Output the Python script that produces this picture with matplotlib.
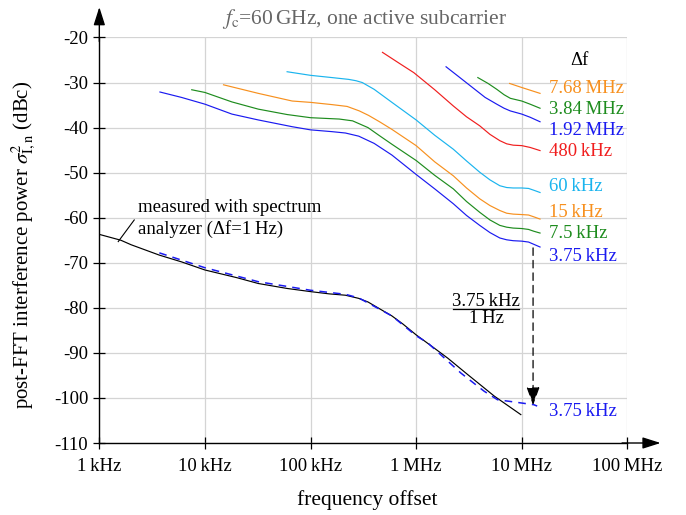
"""
Post-FFT interference power vs. frequency offset for several subcarrier
spacings, compared with the spectrum analyzer measurement.
"""

import matplotlib
matplotlib.use("Agg")
import matplotlib.pyplot as plt
from matplotlib.ticker import FixedLocator, NullLocator

plt.rcParams["font.family"] = ["Liberation Serif", "DejaVu Serif"]
plt.rcParams["mathtext.fontset"] = "stix"

# ---- data (frequency offset in Hz, power in dBc) ----
f_375k = [3.75e3, 6e3, 1e4, 1.8e4, 3.2e4, 6.7e4, 1e5, 1.6e5, 2.14e5, 2.86e5,
          4e5, 5.9e5, 1e6, 1.5e6, 2.25e6, 3e6, 4e6, 5e6, 6.2e6, 7.2e6, 8.3e6,
          1e7, 11.6e6, 13e6, 14.9e6]
p_375k = [-32.1, -33.3, -34.8, -37.0, -38.3, -39.8, -40.5, -40.9, -41.2, -41.9,
          -43.5, -46.1, -50.4, -53.6, -56.9, -59.5, -61.7, -63.3, -64.5, -64.9,
          -65.1, -65.2, -65.4, -65.9, -66.5]

f_75k = [7.5e3, 1e4, 1.8e4, 3.2e4, 6e4, 1e5, 1.87e5, 2.5e5, 3.5e5, 4.5e5,
         5.9e5, 1e6, 1.5e6, 2.25e6, 3e6, 4e6, 5e6, 6.2e6, 7.2e6, 8.3e6, 1e7,
         11.6e6, 13e6, 14.9e6]
p_75k = [-31.6, -32.2, -34.3, -35.9, -37.1, -37.8, -38.1, -38.5, -40.0, -41.8,
         -43.7, -47.3, -50.6, -53.6, -56.4, -58.8, -60.5, -61.7, -62.1, -62.3,
         -62.4, -62.6, -63.0, -63.4]

f_15k = [1.5e4, 3.2e4, 6.7e4, 1e5, 1.6e5, 2.22e5, 2.9e5, 3.55e5, 4.5e5, 5.9e5,
         1e6, 1.5e6, 2.25e6, 3e6, 4e6, 5e6, 6.2e6, 7.2e6, 8.3e6, 1e7, 11.6e6,
         13e6, 14.9e6]
p_15k = [-30.5, -32.4, -34.1, -34.4, -34.9, -35.3, -36.3, -37.3, -38.7, -40.4,
         -44.0, -47.6, -50.7, -53.4, -55.8, -57.3, -58.4, -59.0, -59.2, -59.3,
         -59.4, -59.8, -60.3]

f_60k = [6e4, 1e5, 1.6e5, 2.3e5, 2.7e5, 3.09e5, 4e5, 5.9e5, 1e6, 1.5e6, 2.25e6,
         3e6, 4e6, 5e6, 6.2e6, 7.2e6, 8.3e6, 1e7, 11.6e6, 13e6, 14.9e6]
p_60k = [-27.6, -28.4, -28.9, -29.3, -29.6, -30.0, -31.5, -34.4, -38.3, -41.7,
         -44.8, -47.4, -49.9, -51.6, -52.9, -53.3, -53.4, -53.4, -53.5, -53.9,
         -54.4]

f_480k = [4.8e5, 7e5, 9.5e5, 1.5e6, 2.25e6, 3e6, 4e6, 5e6, 6.2e6, 7.2e6, 8.3e6,
          1e7, 12e6, 14.9e6]
p_480k = [-23.3, -25.8, -27.8, -31.6, -35.2, -37.6, -39.6, -41.5, -42.9, -43.6,
          -43.9, -44.0, -44.4, -45.1]

f_192m = [1.92e6, 2.5e6, 3.25e6, 4.5e6, 5.8e6, 6.8e6, 7.8e6, 1e7, 12e6, 14.9e6]
p_192m = [-26.5, -28.6, -30.7, -33.3, -34.8, -35.7, -36.3, -37.0, -37.7, -38.7]

f_384m = [3.84e6, 4.8e6, 5.8e6, 6.8e6, 7.8e6, 1e7, 12e6, 14.9e6]
p_384m = [-28.9, -30.2, -31.5, -32.7, -33.5, -34.1, -34.8, -35.7]

f_768m = [7.68e6, 1e7, 14.9e6]
p_768m = [-30.2, -31.1, -32.4]

# spectrum analyzer measurement (1 Hz resolution)
f_meas = [1e3, 1.6e3, 2e3, 3.7e3, 6e3, 1e4, 2e4, 3.2e4, 6e4, 1e5, 1.5e5,
          2.14e5, 2.86e5, 3.5e5, 4.5e5, 5.9e5, 7.5e5, 1e6, 1.4e6, 2e6, 3e6,
          5.5e6, 7.5e6, 9.8e6]
p_meas = [-63.7, -65.0, -66.0, -68.3, -69.8, -71.6, -73.3, -74.6, -75.7, -76.4,
          -76.9, -77.2, -77.9, -78.7, -80.2, -81.8, -83.6, -86.0, -88.5, -91.2,
          -94.6, -99.6, -101.8, -103.7]

# same measurement scaled to 3.75 kHz bandwidth
f_scaled = [3.7e3, 1e4, 3.2e4, 1e5, 2.14e5, 2.86e5, 5.9e5, 1e6, 1.29e6,
            2.66e6, 4.4e6, 5.9e6, 8.5e6, 13e6, 14e6]
p_scaled = [-67.8, -71.1, -74.2, -76.1, -77.0, -77.8, -81.8, -86.2, -87.8,
            -94.5, -98.5, -100.4, -100.9, -101.5, -101.8]

labels = ["7.68\u2009MHz", "3.84\u2009MHz", "1.92\u2009MHz", "480\u2009kHz",
          "60\u2009kHz", "15\u2009kHz", "7.5\u2009kHz", "3.75\u2009kHz"]
label_y = [-31.3, -35.9, -40.7, -45.3, -53.0, -58.9, -63.5, -68.5]

x_ticks = [1e3, 1e4, 1e5, 1e6, 1e7, 1e8]
x_ticklabels = ["1\u2009kHz", "10\u2009kHz", "100\u2009kHz", "1\u2009MHz",
                "10\u2009MHz", "100\u2009MHz"]
y_ticks = list(range(-110, -19, 10))

# ---- colours ----
BLUE = "#1a1af0"
GREEN = "#1e8c1e"
ORANGE = "#f7901e"
CYAN = "#1ab4ee"
RED = "#f01e1e"
FS = 13.5

fig = plt.figure(figsize=(6.86, 5.15), dpi=100)
ax = fig.add_axes([0.1448, 0.1398, 0.7697, 0.7874])

ax.set_xscale("log")
ax.set_xlim(1e3, 1e8)
ax.set_ylim(-110, -20)

lw = 0.85
ax.plot(f_375k, p_375k, color=BLUE, lw=lw)
ax.plot(f_75k, p_75k, color=GREEN, lw=lw)
ax.plot(f_15k, p_15k, color=ORANGE, lw=lw)
ax.plot(f_60k, p_60k, color=CYAN, lw=lw)
ax.plot(f_480k, p_480k, color=RED, lw=lw)
ax.plot(f_192m, p_192m, color=BLUE, lw=lw)
ax.plot(f_384m, p_384m, color=GREEN, lw=lw)
ax.plot(f_768m, p_768m, color=ORANGE, lw=lw)
ax.plot(f_meas, p_meas, color="black", lw=lw)
ax.plot(f_scaled, p_scaled, color=BLUE, lw=1.1, ls=(0, (5, 4)))

# right-hand labels
label_colors = [ORANGE, GREEN, BLUE, RED, CYAN, ORANGE, GREEN, BLUE]
for txt, yy, col in zip(labels, label_y, label_colors):
    ax.text(1.81e7, yy, txt, color=col, fontsize=FS, ha="left", va="center")
ax.text(3.5e7, -25.1, "\u0394f", fontsize=FS, ha="center", va="center")
ax.text(1.81e7, -102.9, "3.75\u2009kHz", color=BLUE, fontsize=FS,
        ha="left", va="center")

# scaling arrow
ax.annotate("", xy=(1.28e7, -101.6), xytext=(1.28e7, -66.7),
            arrowprops=dict(arrowstyle="-|>,head_length=1.1,head_width=0.4",
                            color="black", lw=0.9, ls=(0, (6, 4)),
                            shrinkA=0, shrinkB=0))
ax.text(4.6e6, -78.6, "3.75\u2009kHz", fontsize=FS, ha="center", va="center")
ax.plot([2.25e6, 9.5e6], [-80.3, -80.3], color="black", lw=0.9)
ax.text(4.6e6, -82.3, "1\u2009Hz", fontsize=FS, ha="center", va="center")

# measurement note
ax.text(2.32e3, -60.2, "measured with spectrum\nanalyzer (\u0394f=1\u2009Hz)",
        fontsize=FS, ha="left", va="center", linespacing=1.25)
ax.plot([1.51e3, 2.14e3], [-65.3, -60.5], color="black", lw=0.8)

# axes styling
ax.xaxis.set_major_locator(FixedLocator(x_ticks))
ax.xaxis.set_minor_locator(NullLocator())
ax.set_xticklabels(x_ticklabels)
ax.set_yticks(y_ticks)
ax.set_yticklabels([str(v) for v in y_ticks])
ax.tick_params(direction="inout", length=8, width=0.9, labelsize=FS, pad=4)
ax.tick_params(axis="x", pad=7)
ax.grid(True, color="#d4d4d4", lw=0.9)
ax.set_axisbelow(True)
for side in ("top", "right"):
    ax.spines[side].set_visible(False)
for side in ("left", "bottom"):
    ax.spines[side].set_linewidth(1.0)

# axis arrows
ax.annotate("", xy=(0, 1.075), xycoords="axes fraction", xytext=(0, 0.99),
            arrowprops=dict(arrowstyle="-|>,head_length=1.1,head_width=0.35",
                            color="black", lw=1.0, shrinkA=0, shrinkB=0))
ax.annotate("", xy=(1.063, 0), xycoords="axes fraction", xytext=(0.99, 0),
            arrowprops=dict(arrowstyle="-|>,head_length=1.1,head_width=0.35",
                            color="black", lw=1.0, shrinkA=0, shrinkB=0))

ax.set_xlabel("frequency offset", fontsize=15.5, labelpad=8)
ax.xaxis.set_label_coords(0.508, -0.115)
ax.set_ylabel(r"post-FFT interference power $\sigma^2_{\mathrm{I,n}}$ (dBc)",
              fontsize=15, labelpad=2)
ax.yaxis.set_label_coords(-0.117, 0.488)
fig.text(0.532, 0.963, r"$f_{\mathrm{c}}$=60$\,$GHz, one active subcarrier",
         color="#666666", fontsize=15.5, ha="center", va="center")

fig.savefig("out.png", dpi=100)
